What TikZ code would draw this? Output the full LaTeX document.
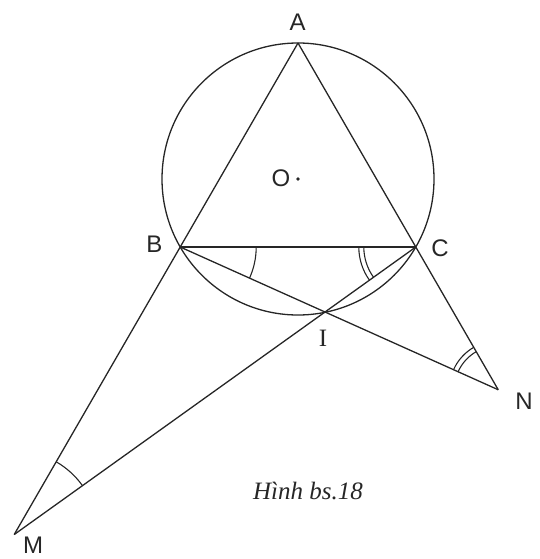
\documentclass[tikz,border=0pt]{standalone}
\usepackage{fontspec}
\newfontfamily\labfont{Liberation Sans}
\newfontfamily\capfont{Liberation Serif}
\usetikzlibrary{angles,calc}
\begin{document}
\begin{tikzpicture}[x=1pt,y=-1pt,
  geo/.style={line width=1.3pt, draw=black!85},
  amark/.style={draw=black!85, line width=1.1pt},
  lbl/.style={font=\labfont\fontsize{24}{27}\selectfont, inner sep=0pt, text=black!85}]
\useasboundingbox (0,0) rectangle (539,559);
\coordinate (O) at (298,179);
\coordinate (A) at (298,43);
\coordinate (B) at ($(O)+(-117.8,68)$);
\coordinate (C) at ($(O)+(117.8,68)$);
\coordinate (I) at (325,312);
\coordinate (M) at (intersection of A--B and C--I);
\coordinate (N) at (intersection of A--C and B--I);
% circle
\draw[geo] (O) circle[radius=136pt];
% lines
\draw[geo] (A) -- (M);
\draw[geo] (A) -- (N);
\draw[geo] (B) -- (C);
\draw[geo] (B) -- (N);
\draw[geo] (M) -- (C);
% centre dot
\fill[black!85] (O) circle[radius=1.9pt];
% angle marks
\pic[amark, angle radius=76pt] {angle = I--B--C};
\pic[amark, angle radius=52pt] {angle = B--C--I};
\pic[amark, angle radius=57pt] {angle = B--C--I};
\pic[amark, angle radius=44pt] {angle = C--N--I};
\pic[amark, angle radius=49pt] {angle = C--N--I};
\pic[amark, angle radius=84pt] {angle = C--M--B};
% labels
\node[lbl] (lA) at (297.5,22) {A};
\node[lbl] (lB) at (154.5,244.5) {B};
\node[lbl] (lC) at (440,248) {C};
\node[lbl, font=\capfont\fontsize{25}{28}\selectfont] (lI) at (323,338) {I};
\node[lbl] (lN) at (524,401) {N};
\node[lbl] (lM) at (33,545) {M};
\node[lbl] (lO) at (281,178.5) {O};
\node[font=\capfont\itshape\fontsize{25}{28}\selectfont, inner sep=0pt, text=black!85] (cap) at (308,491) {Hình bs.18};
\end{tikzpicture}
\end{document}
